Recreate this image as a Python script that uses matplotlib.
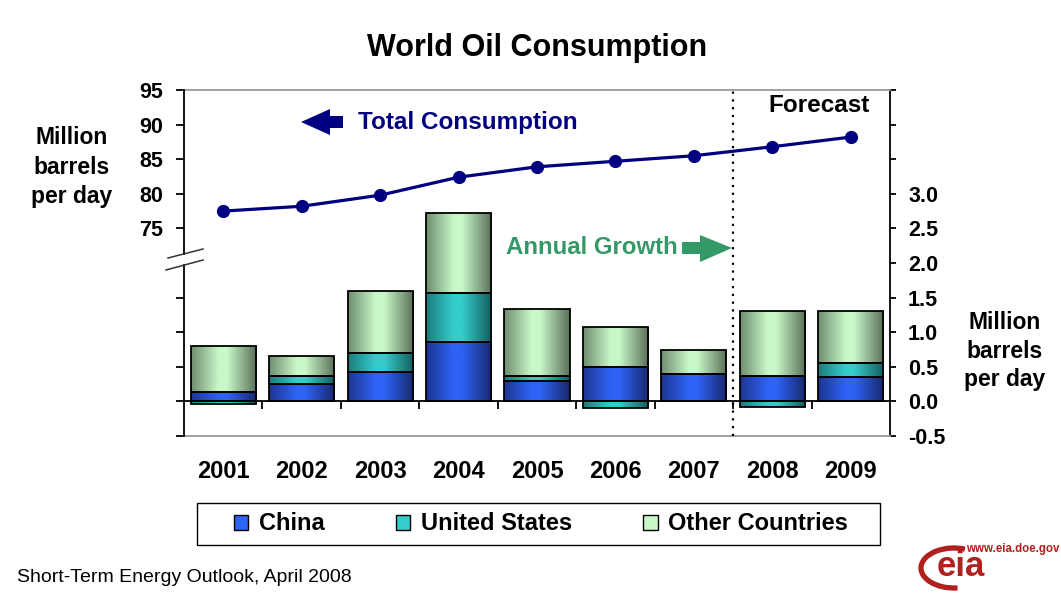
import numpy as np
import matplotlib
matplotlib.use("Agg")
import matplotlib.pyplot as plt
from matplotlib.colors import LinearSegmentedColormap
from matplotlib.patches import Rectangle, Polygon, Patch, Arc
from matplotlib.lines import Line2D
import matplotlib.transforms as mtransforms

plt.rcParams['font.family'] = ['Liberation Sans', 'DejaVu Sans']

# ---------------------------------------------------------------------------
# data (million barrels per day)
# ---------------------------------------------------------------------------
years = ['2001', '2002', '2003', '2004', '2005', '2006', '2007', '2008', '2009']
total_consumption = [77.5, 78.2, 79.8, 82.4, 83.9, 84.7, 85.5, 86.8, 88.2]

growth_china = [0.14, 0.25, 0.43, 0.86, 0.29, 0.49, 0.39, 0.37, 0.35]
growth_us = [-0.04, 0.12, 0.27, 0.70, 0.08, -0.10, 0.0, -0.08, 0.20]
growth_other = [0.66, 0.28, 0.89, 1.16, 0.96, 0.59, 0.36, 0.94, 0.76]

series_names = ['China', 'United States', 'Other Countries']
right_ticks = [-0.5, 0.0, 0.5, 1.0, 1.5, 2.0, 2.5, 3.0]
left_ticks = [75, 80, 85, 90, 95]
first_forecast = 7   # index of 2008

# colours: (edge shade, centre highlight, far edge shade)
shades = {
    'China': ('#1d3590', '#2f63f6', '#17286c'),
    'United States': ('#1b7c7c', '#35cccc', '#145c5c'),
    'Other Countries': ('#6f8d6f', '#c8f8c8', '#586e58'),
}
navy = '#000080'
green_txt = '#339966'
eia_red = '#b0201e'

W, H = 1061, 596
fig = plt.figure(figsize=(W / 100, H / 100), dpi=100)
fig.patch.set_facecolor('white')
# pixel coordinates measured from the top-left corner
px = mtransforms.Affine2D().scale(1 / 100, -1 / 100).translate(0, H / 100) + fig.dpi_scale_trans

ax = fig.add_axes([184 / W, 1 - 436 / H, 706 / W, 346 / H])
axl = ax.twinx()   # total consumption on the left scale


def gradient_bar(axis, x, bottom, height, name, width=0.83):
    if height == 0:
        return
    c0, c1, c2 = shades[name]
    cmap = LinearSegmentedColormap.from_list(name, [(0, c0), (0.42, c1), (0.55, c1), (1, c2)])
    rect = Rectangle((x - width / 2, bottom), width, height, facecolor='none',
                     edgecolor='black', linewidth=1.3, zorder=3)
    axis.add_patch(rect)
    grad = np.linspace(0, 1, 256).reshape(1, -1)
    y0, y1 = sorted([bottom, bottom + height])
    im = axis.imshow(grad, cmap=cmap, aspect='auto', zorder=2,
                     extent=[x - width / 2, x + width / 2, y0, y1])
    im.set_clip_path(rect)


# stacked bars, positives stacked upward from zero, negatives downward
for i in range(len(years)):
    pos = 0.0
    neg = 0.0
    for name, vals in zip(series_names, [growth_china, growth_us, growth_other]):
        v = vals[i]
        if v >= 0:
            gradient_bar(ax, i, pos, v, name)
            pos += v
        else:
            gradient_bar(ax, i, neg, v, name)
            neg += v

ax.set_xlim(-0.5, len(years) - 0.5)
ax.set_ylim(-0.5, 4.5)

ax.axhline(0, color='black', linewidth=1.3, zorder=4)
# category separators below the zero line
ax.vlines(np.arange(0.5, len(years) - 0.5), -0.11, 0, color='black', linewidth=1.3, zorder=4)
# forecast divider
ax.axvline(first_forecast - 0.5, color='black', linestyle=(0, (1, 2.5)), linewidth=1.6, zorder=4)

ax.yaxis.tick_right()
ax.set_yticks(right_ticks + [3.5, 4.0, 4.5])
ax.set_yticklabels(['%.1f' % t for t in right_ticks] + ['', '', ''])
ax.tick_params(axis='y', direction='out', length=4, width=1.3, pad=9,
               labelsize=15.5, colors='black')
for lab in ax.get_yticklabels():
    lab.set_fontweight('bold')

ax.set_xticks(range(len(years)))
ax.set_xticklabels(years, fontsize=17, fontweight='bold')
ax.tick_params(axis='x', length=0, pad=17)

ax.spines['left'].set_visible(False)
ax.spines['right'].set_linewidth(1.3)
ax.spines['top'].set_color('#999999')
ax.spines['bottom'].set_color('#999999')
ax.spines['top'].set_linewidth(1.3)
ax.spines['bottom'].set_linewidth(1.3)

axl.set_xlim(-0.5, len(years) - 0.5)
axl.set_ylim(45, 95)
axl.yaxis.tick_left()
axl.plot(range(len(years)), total_consumption, color=navy, linewidth=2.3,
         marker='o', markersize=8.5, zorder=5)
axl.set_yticks([45, 50, 55, 60, 65] + left_ticks)
axl.set_yticklabels([''] * 5 + [str(t) for t in left_ticks])
axl.tick_params(axis='y', direction='out', length=6, width=1.3, pad=9,
                labelsize=15.5, colors='black')
for lab in axl.get_yticklabels():
    lab.set_fontweight('bold')
for side in ['left', 'right', 'top', 'bottom']:
    axl.spines[side].set_visible(False)

# left axis line with a break around 70
yt = axl.get_yaxis_transform()
axl.plot([0, 0], [45, 69.7], color='black', linewidth=1.3, transform=yt, clip_on=False)
axl.plot([0, 0], [71.3, 95], color='black', linewidth=1.3, transform=yt, clip_on=False)
for seg in [[(168, 258), (203, 249)], [(166, 270), (203, 260)]]:
    fig.add_artist(Line2D([seg[0][0], seg[1][0]], [seg[0][1], seg[1][1]],
                          color='#333333', linewidth=1.1, transform=px))

# titles and labels
fig.text(537 / W, 1 - 48 / H, 'World Oil Consumption', ha='center', va='center',
         fontsize=22, fontweight='bold')
fig.text(72 / W, 1 - 167 / H, 'Million\nbarrels\nper day', ha='center', va='center',
         fontsize=16.5, fontweight='bold', linespacing=1.35)
fig.text(1005 / W, 1 - 351 / H, 'Million\nbarrels\nper day', ha='center', va='center',
         fontsize=16.5, fontweight='bold', linespacing=1.3)
fig.text(819 / W, 1 - 105 / H, 'Forecast', ha='center', va='center',
         fontsize=17.5, fontweight='bold')
fig.text(358 / W, 1 - 122 / H, 'Total Consumption', ha='left', va='center',
         fontsize=17.5, fontweight='bold', color=navy)
fig.text(678 / W, 1 - 247 / H, 'Annual Growth', ha='right', va='center',
         fontsize=17.3, fontweight='bold', color=green_txt)

# block arrows
left_arrow = [(301, 122), (330, 109), (330, 116), (343, 116), (343, 128), (330, 128), (330, 135)]
right_arrow = [(732, 248), (700, 235), (700, 242), (682, 242), (682, 254), (700, 254), (700, 262)]
fig.add_artist(Polygon(left_arrow, closed=True, facecolor=navy, edgecolor='none', transform=px))
fig.add_artist(Polygon(right_arrow, closed=True, facecolor=green_txt, edgecolor='none', transform=px))

# legend: entries spread across the inner area, frame drawn separately
handles = [Patch(facecolor=shades[n][1], edgecolor='black', linewidth=1.0) for n in series_names]
leg = fig.legend(handles, series_names, loc='center left', ncol=3, mode='expand',
                 bbox_to_anchor=(234 / W, 1 - 545 / H, 614 / W, 42 / H),
                 prop={'size': 17, 'weight': 'bold'}, frameon=False,
                 handlelength=0.6, handleheight=0.6, handletextpad=0.45,
                 borderpad=0, borderaxespad=0)
fig.add_artist(Rectangle((197, 545), 683, -42, facecolor='none', edgecolor='black',
                         linewidth=1.0, transform=px))

# source note
fig.text(17 / W, 1 - 577 / H, 'Short-Term Energy Outlook, April 2008', ha='left', va='center',
         fontsize=14)

# agency mark
fig.text(1013 / W, 1 - 549 / H, 'www.eia.doe.gov', ha='center', va='center',
         fontsize=8.3, fontweight='bold', color=eia_red)
fig.text(961 / W, 1 - 567 / H, 'eia', ha='center', va='center',
         fontsize=25, fontweight='bold', color=eia_red)
fig.add_artist(Arc((954, 568), 66, 40, theta1=80, theta2=300, color=eia_red,
                   linewidth=3.8, transform=px))

fig.savefig('out.png', dpi=100, facecolor='white')
